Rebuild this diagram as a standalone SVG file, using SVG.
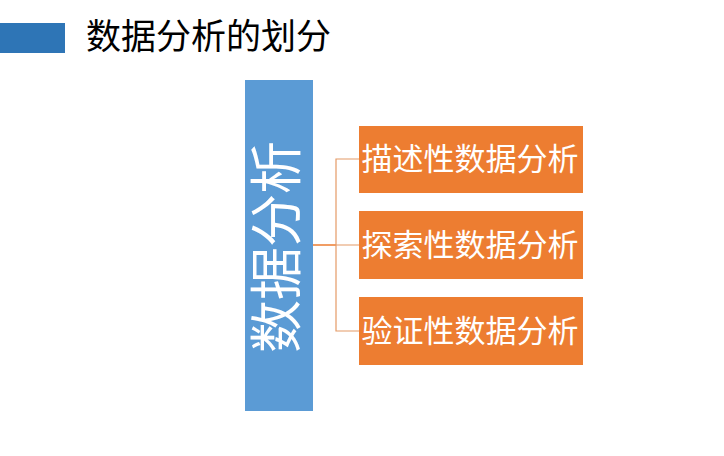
<svg xmlns="http://www.w3.org/2000/svg" width="724" height="456" viewBox="0 0 724 456">
<style>
.cjk{font-family:"Liberation Serif","Noto Sans CJK SC",serif;}
.child rect{fill:#ED7D31;}
.child text{fill:#FFFFFF;font-size:31px;text-anchor:middle;}
.conn{fill:none;stroke:#E49A66;stroke-width:1.2;}
</style>
<rect x="0" y="0" width="724" height="456" fill="#FFFFFF"/>
<g id="title">
<rect x="0" y="23" width="65" height="30" fill="#2E75B6"/>
<text class="cjk" x="86" y="49" font-size="35" fill="#000000">数据分析的划分</text>
</g>
<g id="connectors">
<line x1="313" y1="245" x2="336" y2="245" stroke="#ED7D31" stroke-width="1.5"/>
<path class="conn" d="M359 159 H336 V331 H359 M336 245 H359"/>
</g>
<g id="root">
<rect x="245" y="80" width="68" height="331" fill="#5B9BD5"/>
<text class="cjk" transform="translate(296 247) rotate(-90)" font-size="53" fill="#FFFFFF" text-anchor="middle">数据分析</text>
</g>
<g id="n1" class="child">
<rect x="359" y="126" width="224" height="67"/>
<text class="cjk" x="470" y="170">描述性数据分析</text>
</g>
<g id="n2" class="child">
<rect x="359" y="211" width="224" height="68"/>
<text class="cjk" x="470" y="256">探索性数据分析</text>
</g>
<g id="n3" class="child">
<rect x="359" y="297" width="224" height="68"/>
<text class="cjk" x="470" y="342">验证性数据分析</text>
</g>
</svg>
